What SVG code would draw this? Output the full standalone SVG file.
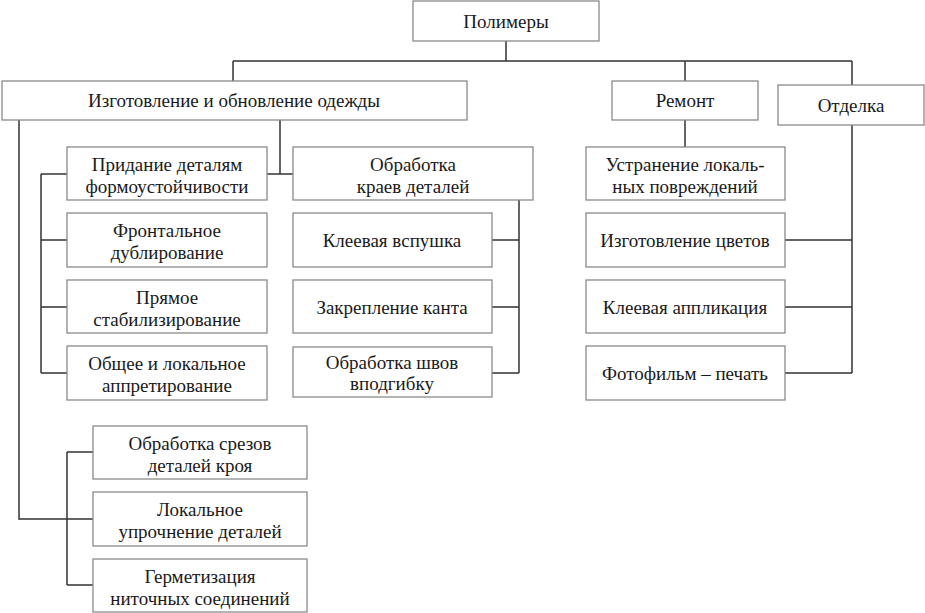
<svg xmlns="http://www.w3.org/2000/svg" width="925" height="613" viewBox="0 0 925 613">
<style>
.b{fill:#fff;stroke:#8a8a8a;stroke-width:1.3}
.t{font-family:"Liberation Serif","DejaVu Serif",serif;font-size:19px;fill:#1a1a1a;text-anchor:middle}
.c{fill:none;stroke:#333;stroke-width:1.5}
</style>
<rect width="925" height="613" fill="#fff"/>
<g id="connectors">
<path class="c" d="M506 41V61M233 61H852M233 61V81M685 61V81M852 61V85"/>
<path class="c" d="M280 120V174M267 174H293"/>
<path class="c" d="M19 120V519H93"/>
<path class="c" d="M67 452V585M67 452H93M67 585H93"/>
<path class="c" d="M41 174V373M41 174H67M41 240H67M41 307H67M41 373H67"/>
<path class="c" d="M519 200V373M492 240H519M492 307H519M492 373H519"/>
<path class="c" d="M685 120V147"/>
<path class="c" d="M852 125V373M785 240H852M785 307H852M785 373H852"/>
</g>
<g id="n_polymers"><rect class="b" x="413" y="1" width="186" height="40"/><text class="t" x="506" y="28">Полимеры</text></g>
<g id="n_izgot"><rect class="b" x="2" y="81" width="465" height="39"/><text class="t" x="234" y="107">Изготовление и обновление одежды</text></g>
<g id="n_remont"><rect class="b" x="612" y="81" width="146" height="39"/><text class="t" x="685" y="107">Ремонт</text></g>
<g id="n_otdelka"><rect class="b" x="778" y="85" width="146" height="40"/><text class="t" x="851" y="112">Отделка</text></g>
<g id="n_pridanie"><rect class="b" x="67" y="147" width="200" height="53"/><text class="t" x="167" y="171">Придание деталям</text><text class="t" x="167" y="193">формоустойчивости</text></g>
<g id="n_frontal"><rect class="b" x="67" y="213" width="200" height="54"/><text class="t" x="167" y="237">Фронтальное</text><text class="t" x="167" y="259">дублирование</text></g>
<g id="n_pryamoe"><rect class="b" x="67" y="280" width="200" height="53"/><text class="t" x="167" y="304">Прямое</text><text class="t" x="167" y="326">стабилизирование</text></g>
<g id="n_obshee"><rect class="b" x="67" y="346" width="200" height="54"/><text class="t" x="167" y="370">Общее и локальное</text><text class="t" x="167" y="392">аппретирование</text></g>
<g id="n_obrab_kraev"><rect class="b" x="293" y="147" width="240" height="53"/><text class="t" x="413" y="171">Обработка</text><text class="t" x="413" y="193">краев деталей</text></g>
<g id="n_kleev_vsp"><rect class="b" x="293" y="213" width="199" height="54"/><text class="t" x="392" y="247">Клеевая вспушка</text></g>
<g id="n_zakrep"><rect class="b" x="293" y="280" width="199" height="53"/><text class="t" x="392" y="314">Закрепление канта</text></g>
<g id="n_obrab_shvov"><rect class="b" x="293" y="347" width="199" height="50"/><text class="t" x="392" y="369">Обработка швов</text><text class="t" x="392" y="390">вподгибку</text></g>
<g id="n_ustranenie"><rect class="b" x="586" y="147" width="199" height="53"/><text class="t" x="685" y="171">Устранение локаль-</text><text class="t" x="685" y="193">ных повреждений</text></g>
<g id="n_cvety"><rect class="b" x="586" y="213" width="199" height="54"/><text class="t" x="685" y="247">Изготовление цветов</text></g>
<g id="n_applik"><rect class="b" x="586" y="280" width="199" height="53"/><text class="t" x="685" y="314">Клеевая аппликация</text></g>
<g id="n_foto"><rect class="b" x="586" y="346" width="199" height="54"/><text class="t" x="685" y="380">Фотофильм – печать</text></g>
<g id="n_srezy"><rect class="b" x="93" y="426" width="214" height="53"/><text class="t" x="200" y="450">Обработка срезов</text><text class="t" x="200" y="472">деталей кроя</text></g>
<g id="n_lokal"><rect class="b" x="93" y="492" width="214" height="54"/><text class="t" x="200" y="516">Локальное</text><text class="t" x="200" y="538">упрочнение деталей</text></g>
<g id="n_germet"><rect class="b" x="93" y="559" width="214" height="53"/><text class="t" x="200" y="583">Герметизация</text><text class="t" x="200" y="605">ниточных соединений</text></g>
</svg>
